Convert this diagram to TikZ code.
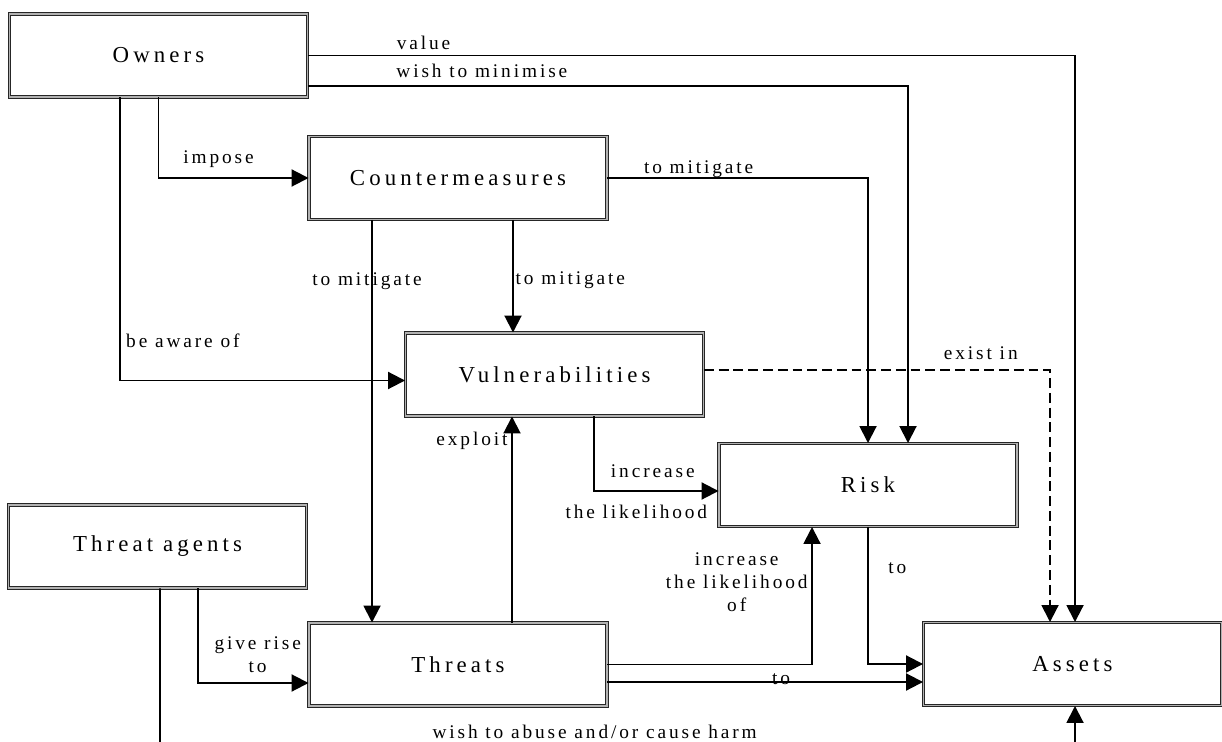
\documentclass[tikz,border=0pt]{standalone}
\usepackage{fontspec}
\setmainfont{Liberation Serif}
\newfontfamily\boxfont{Liberation Serif}[LetterSpace=18]
\newfontfamily\lblfont{Liberation Serif}[LetterSpace=15]
\usetikzlibrary{arrows.meta, positioning}

\begin{document}
\begin{tikzpicture}[x=0.02cm, y=-0.02cm]
            \tikzstyle{entity} = [rectangle, minimum width=5.96cm, minimum height=1.66cm, text centered, draw=black!85, double=black!30, double distance=0.9pt, line width=0.55pt, inner sep=0pt, font=\boxfont\fontsize{13}{15}\selectfont]
            \tikzstyle{arrow} = [line width=1.1pt, -{Triangle[length=0.34cm, width=0.34cm]}]
            \tikzstyle{lbl} = [font=\lblfont\fontsize{11}{13}\selectfont, inner sep=2pt]

            \clip (0,0) rectangle (1222,742);

            \node (owners)[entity] at (158.5,55.5) {Owners};
            \node (counter)[entity] at (458,178) {Countermeasures};
            \node (vuln)[entity] at (554.5,374.5) {Vulnerabilities};
            \node (risk)[entity] at (868,485) {Risk};
            \node (agents)[entity] at (157.5,546.5) {Threat agents};
            \node (threats)[entity] at (458,664.5) {Threats};
            \node (assets)[entity] at (1072.5,664) {Assets};

            % the harm line runs below the visible area
            \coordinate (harmL) at (160,752);
            \coordinate (harmR) at (1075,752);

            \draw [arrow] (owners.east) -| node[lbl, pos=0.055, anchor=south west, yshift=1pt]{value} ([xshift=0.05cm]assets.north);
            \draw [arrow] ([yshift=-0.61cm]owners.east) -| node[lbl, pos=0.07, anchor=south west, yshift=2pt]{wish to minimise} ([xshift=0.8cm]risk.north);
            \draw [arrow] (owners.south) |- node[lbl, pos=0.7, above=3.5pt]{impose} (counter.west);
            \draw [arrow] ([xshift=-0.77cm]owners.south) |- node[lbl, pos=0.43, anchor=west, xshift=1pt]{be aware of} ([yshift=-0.12cm]vuln.west);
            \draw [arrow] (counter.east) -| node[lbl, pos=0.175, above=-2.5pt]{to mitigate} (risk.north);
            \draw [arrow] ([xshift=-1.72cm]counter.south) -- node[lbl, pos=0.151, xshift=-0.1cm]{to mitigate} ([xshift=-1.72cm]threats.north);
            \draw [arrow] ([xshift=1.1cm]counter.south) -- node[lbl, pos=0.535, anchor=west, inner sep=1pt]{to mitigate} ([xshift=1.1cm]counter.south |- vuln.north);
            \draw [arrow, dash pattern=on 5.6pt off 2.8pt] ([yshift=0.09cm]vuln.east) -| node[lbl, pos=0.4, above=3.6pt]{exist in} ([xshift=-0.45cm]assets.north);
            \draw [arrow] ([xshift=0.79cm]vuln.south) |- node[lbl, pos=0.736, above=5pt]{increase} node[lbl, pos=0.67, below=5.5pt]{the likelihood} ([yshift=-0.12cm]risk.west);
            \draw [arrow] ([xshift=1.08cm]threats.north) -- node[lbl, pos=0.884, left]{exploit} ([xshift=1.08cm]threats.north |- vuln.south);
            \draw [arrow] (threats.east) -| node[lbl, pos=0.8, left, align=center]{increase\\the likelihood\\of} ([xshift=-1.12cm]risk.south);
            \draw [arrow] ([yshift=-0.35cm]threats.east) -- node[lbl, pos=0.55, above, inner sep=0pt, yshift=-2pt]{to} ([yshift=-0.35cm]threats.east -| assets.west);
            \draw [arrow] (risk.south) |- node[lbl, pos=0.15, right=9pt]{to} (assets.west);
            \draw [arrow] ([xshift=0.81cm]agents.south) |- node[lbl, pos=0.77, above=3.6pt, align=center]{give rise\\to} ([yshift=-0.37cm]threats.west);
            \draw [arrow] ([xshift=0.05cm]agents.south) -- (harmL) -- node[lbl, pos=0.475, above=5pt]{wish to abuse and/or cause harm} (harmR) -- ([xshift=0.05cm]assets.south);
        \end{tikzpicture}
\end{document}
